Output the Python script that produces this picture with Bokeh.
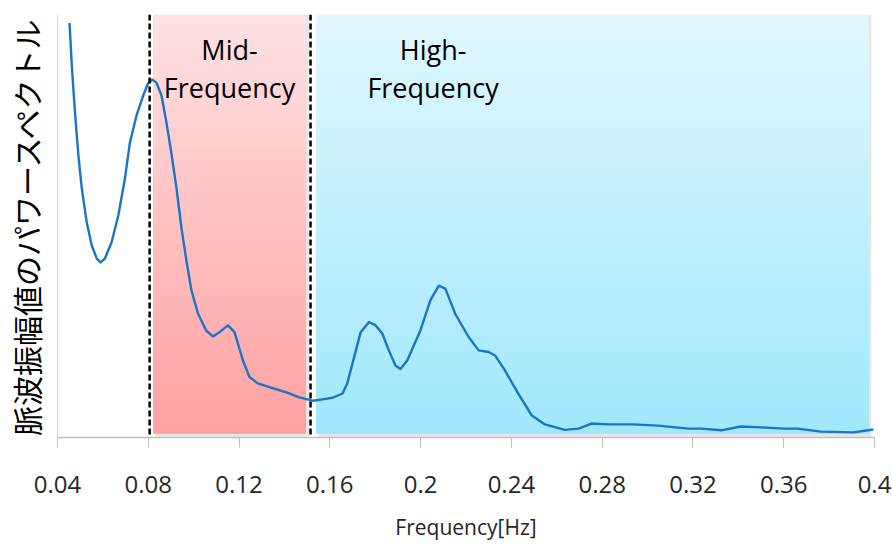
from bokeh.plotting import figure
from bokeh.models import Range1d, FixedTicker, Span
from bokeh.core.properties import value
from bokeh.embed import file_html
from bokeh.resources import INLINE

# Pulse-wave amplitude power spectrum (arbitrary units) against frequency in Hz
freq = [0.0453, 0.0463, 0.0478, 0.0492, 0.0507, 0.0529, 0.0551, 0.0573, 0.0590,
        0.0609, 0.0638, 0.0668, 0.0697, 0.0719, 0.0748, 0.0778, 0.0799, 0.0818,
        0.0836, 0.0858, 0.0880, 0.0902, 0.0924, 0.0946, 0.0968, 0.0990, 0.1019,
        0.1055, 0.1085, 0.1114, 0.1151, 0.1180, 0.1217, 0.1246, 0.1282, 0.1334,
        0.1407, 0.1465, 0.1524, 0.1568, 0.1612, 0.1656, 0.1677, 0.1707, 0.1736,
        0.1773, 0.1802, 0.1831, 0.1860, 0.1889, 0.1911, 0.1941, 0.1999, 0.2043,
        0.2080, 0.2109, 0.2153, 0.2212, 0.2256, 0.2300, 0.2328, 0.2372, 0.2431,
        0.2490, 0.2548, 0.2636, 0.2696, 0.2753, 0.2828, 0.2937, 0.3047, 0.3179,
        0.3236, 0.3324, 0.3411, 0.3499, 0.3600, 0.3662, 0.3763, 0.3907, 0.3995]
power = [0.980, 0.879, 0.761, 0.667, 0.589, 0.508, 0.454, 0.423, 0.414,
         0.423, 0.461, 0.525, 0.612, 0.697, 0.761, 0.809, 0.837, 0.846,
         0.839, 0.809, 0.745, 0.671, 0.591, 0.496, 0.418, 0.348, 0.293,
         0.253, 0.239, 0.249, 0.265, 0.249, 0.182, 0.143, 0.128, 0.119,
         0.107, 0.095, 0.087, 0.090, 0.094, 0.104, 0.128, 0.190, 0.249,
         0.273, 0.265, 0.246, 0.206, 0.170, 0.162, 0.182, 0.253, 0.324,
         0.359, 0.352, 0.292, 0.237, 0.206, 0.202, 0.194, 0.158, 0.103,
         0.052, 0.031, 0.018, 0.021, 0.033, 0.031, 0.031, 0.028, 0.021,
         0.021, 0.017, 0.026, 0.024, 0.021, 0.021, 0.014, 0.012, 0.019]

# Frequency bands
band_names = ["Mid-\nFrequency", "High-\nFrequency"]
band_left = [0.0821, 0.1541]
band_right = [0.1495, 0.3973]
band_label_x = [0.1158, 0.2055]
band_top_color = [(255, 225, 227), (224, 247, 255)]
band_bottom_color = [(255, 160, 160), (160, 232, 253)]
boundaries = [0.0806, 0.1515]

x_ticks = [0.04, 0.08, 0.12, 0.16, 0.2, 0.24, 0.28, 0.32, 0.36, 0.4]
x_tick_labels = ["0.04", "0.08", "0.12", "0.16", "0.2", "0.24", "0.28", "0.32", "0.36", "0.4"]

p = figure(width=892, height=550, output_backend="svg", toolbar_location=None,
           x_range=Range1d(0.04, 0.4), y_range=Range1d(0, 1.0),
           min_border_left=54, min_border_right=18, min_border_top=14,
           min_border_bottom=113)
p.background_fill_color = "white"
p.border_fill_color = "white"
p.outline_line_color = None
p.xgrid.grid_line_color = None
p.ygrid.grid_line_color = None

band_bottom = 0.01
band_top = 1.0

# soft drop shadow behind each band
p.quad(left=[l + 0.0009 for l in band_left], right=[r + 0.0013 for r in band_right],
       bottom=band_bottom - 0.008, top=band_top, fill_color="#9a9a9a",
       fill_alpha=0.25, line_color=None)

# vertical gradient fill: stacked strips, tallest (lightest) first
steps = 60
for i in range(len(band_left)):
    lefts, rights, tops, colors = [], [], [], []
    c_top, c_bot = band_top_color[i], band_bottom_color[i]
    for k in range(steps, 0, -1):
        t = k / steps
        tops.append(band_bottom + (band_top - band_bottom) * t)
        rgb = tuple(int(round(c_bot[j] + (c_top[j] - c_bot[j]) * t)) for j in range(3))
        colors.append("#%02x%02x%02x" % rgb)
        lefts.append(band_left[i])
        rights.append(band_right[i])
    p.quad(left=lefts, right=rights, bottom=band_bottom, top=tops,
           fill_color=colors, line_color=None)

for b in boundaries:
    p.add_layout(Span(location=b, dimension="height", line_color="black",
                      line_width=2.5, line_dash="6 3"))

p.line(freq, power, line_color="#1b74c5", line_width=2.4, line_join="round")

p.text(x=band_label_x, y=[0.962, 0.962], text=band_names,
       text_font=value("Open Sans"), text_font_size="27px",
       text_align="center", text_baseline="top", text_line_height=1.03,
       text_color="black")

# x axis
xa = p.xaxis[0]
xa.ticker = FixedTicker(ticks=x_ticks)
xa.major_label_overrides = {t: s for t, s in zip(x_ticks, x_tick_labels)}
xa.minor_tick_line_color = None
xa.major_tick_in = 0
xa.major_tick_out = 10
xa.major_tick_line_color = "#bfbfbf"
xa.axis_line_color = "#bfbfbf"
xa.axis_line_width = 1.5
xa.major_label_text_font = "Open Sans"
xa.major_label_text_font_size = "24px"
xa.major_label_text_color = "#262626"
xa.major_label_standoff = 28
xa.axis_label = "Frequency[Hz]"
xa.axis_label_text_font = "Open Sans"
xa.axis_label_text_font_size = "21px"
xa.axis_label_text_font_style = "normal"
xa.axis_label_text_color = "#262626"
xa.axis_label_standoff = 17

# y axis
ya = p.yaxis[0]
ya.ticker = FixedTicker(ticks=[])
ya.minor_tick_line_color = None
ya.major_tick_line_color = None
ya.axis_line_color = "#d9d9d9"
ya.axis_label = "脈波振幅値のパワースペクトル"
ya.axis_label_text_font = "Noto Sans CJK JP"
ya.axis_label_text_font_size = "30px"
ya.axis_label_text_font_style = "normal"
ya.axis_label_text_color = "black"
ya.axis_label_standoff = 10

open("out.html", "w").write(file_html(p, INLINE))
